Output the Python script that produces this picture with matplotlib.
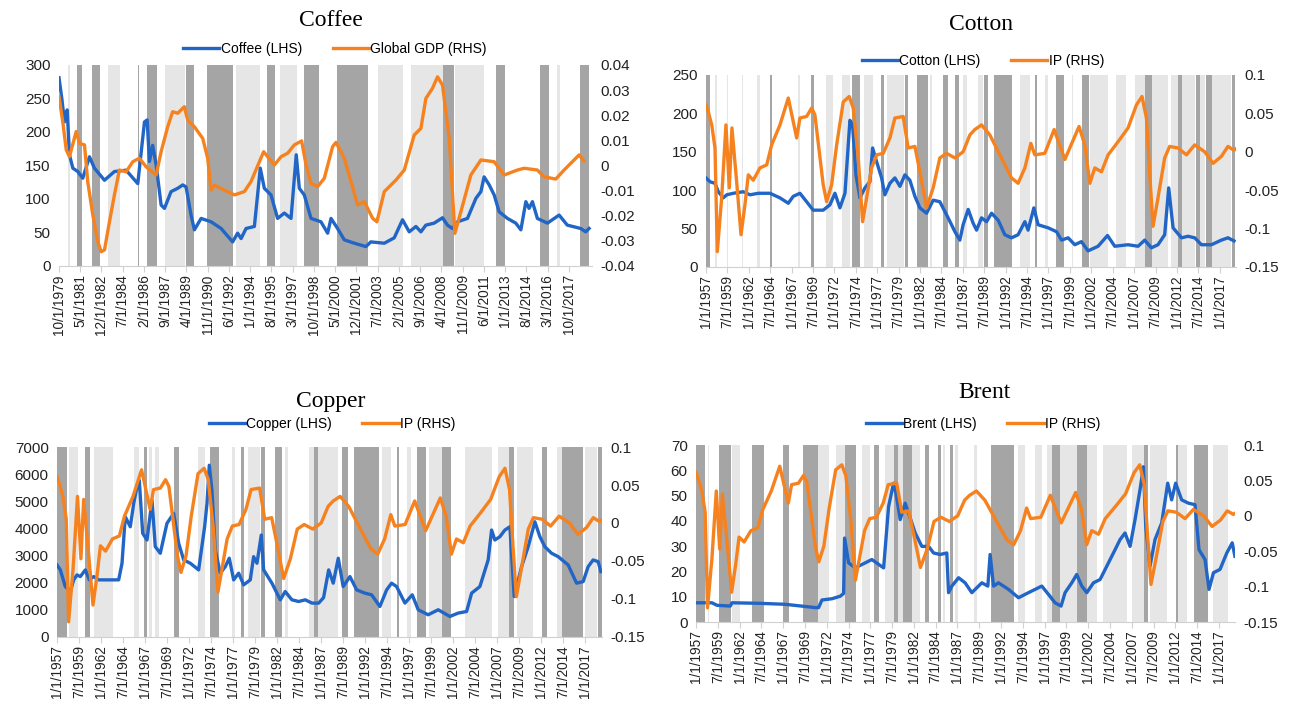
import numpy as np
import matplotlib.pyplot as plt

# ---------------- data (decimal years) ----------------
coffee_pts = [(1979.75, 281), (1979.96, 250), (1980.16, 215), (1980.36, 233), (1980.53, 166),
              (1980.78, 146), (1981.15, 141), (1981.52, 131), (1982.02, 163), (1982.39, 146),
              (1983.14, 128), (1983.88, 141), (1984.75, 143), (1985.62, 123), (1986.12, 215),
              (1986.32, 218), (1986.49, 156), (1986.73, 180), (1986.99, 151), (1987.36, 91),
              (1987.61, 86), (1988.10, 111), (1988.60, 116), (1988.97, 121), (1989.22, 118),
              (1989.59, 76), (1989.84, 54), (1990.34, 71), (1991.08, 66), (1991.83, 56),
              (1992.69, 36), (1993.06, 49), (1993.32, 41), (1993.69, 56), (1994.31, 59),
              (1994.75, 146), (1995.05, 116), (1995.55, 106), (1996.04, 71), (1996.54, 79),
              (1997.04, 71), (1997.43, 166), (1997.66, 116), (1998.03, 106), (1998.53, 71),
              (1999.27, 66), (1999.77, 49), (2000.02, 71), (2000.51, 56), (2001.01, 39),
              (2001.76, 34), (2002.62, 29), (2002.99, 36), (2003.99, 34), (2004.73, 42),
              (2005.35, 69), (2005.85, 51), (2006.35, 59), (2006.72, 51), (2007.09, 61),
              (2007.71, 64), (2008.33, 72), (2008.70, 61), (2009.07, 56), (2009.45, 66),
              (2010.19, 71), (2010.82, 101), (2011.19, 111), (2011.43, 133), (2011.81, 121),
              (2012.18, 106), (2012.55, 81), (2013.17, 71), (2013.79, 64), (2014.17, 54),
              (2014.54, 96), (2014.78, 86), (2015.03, 96), (2015.40, 71), (2016.15, 64),
              (2017.02, 76), (2017.63, 61), (2018.63, 56), (2019.00, 51), (2019.25, 56)]

gdp_pts = [(1979.75, 0.0274), (1980.03, 0.0174), (1980.29, 0.0062), (1980.53, 0.0035), (1981.03, 0.0135),
           (1981.28, 0.0088), (1981.65, 0.0082), (1981.89, -0.0064), (1982.27, -0.0197), (1982.64, -0.0303),
           (1982.89, -0.0343), (1983.14, -0.0336), (1983.51, -0.0224), (1983.88, -0.0117), (1984.25, -0.0018),
           (1984.75, -0.0025), (1985.25, 0.0015), (1985.74, 0.0029), (1986.24, -0.0005), (1986.99, -0.0038),
           (1987.36, 0.0055), (1987.85, 0.0154), (1988.22, 0.0214), (1988.60, 0.0208), (1989.09, 0.0234),
           (1989.34, 0.0181), (1989.84, 0.0154), (1990.46, 0.0108), (1990.83, 0.0029), (1991.08, -0.0098),
           (1991.33, -0.0078), (1992.07, -0.0098), (1992.82, -0.0117), (1993.56, -0.0104), (1994.06, -0.0064),
           (1995.00, 0.0055), (1995.80, 0.0002), (1996.30, 0.0035), (1996.79, 0.0049), (1997.29, 0.0082),
           (1997.83, 0.0098), (1998.16, 0.0002), (1998.53, -0.0071), (1999.02, -0.0084), (1999.52, -0.0051),
           (2000.14, 0.0075), (2000.39, 0.0092), (2001.01, 0.0029), (2001.51, -0.0064), (2002.00, -0.0157),
           (2002.50, -0.0144), (2003.12, -0.0210), (2003.44, -0.0224), (2003.99, -0.0104), (2004.86, -0.0058),
           (2005.48, -0.0018), (2006.22, 0.0121), (2006.72, 0.0148), (2007.09, 0.0267), (2007.58, 0.0307),
           (2007.96, 0.0353), (2008.33, 0.0320), (2008.83, 0.0108), (2009.25, -0.0270), (2009.70, -0.0184),
           (2010.44, -0.0038), (2011.19, 0.0022), (2012.18, 0.0015), (2012.92, -0.0038), (2013.91, -0.0018),
           (2014.41, -0.0011), (2015.40, -0.0018), (2015.90, -0.0045), (2016.77, -0.0054), (2017.39, -0.0018),
           (2018.51, 0.0042), (2018.88, 0.0018)]

ip_pts = [(1957.00, 0.061), (1957.27, 0.052), (1957.67, 0.035), (1958.05, 0.005), (1958.32, -0.130),
          (1958.83, -0.060), (1959.33, 0.035), (1959.72, -0.047), (1960.03, 0.031), (1960.58, -0.039),
          (1961.09, -0.108), (1961.55, -0.069), (1961.94, -0.030), (1962.52, -0.037), (1963.30, -0.021),
          (1964.09, -0.017), (1964.67, 0.009), (1965.64, 0.035), (1966.61, 0.070), (1967.59, 0.018),
          (1967.97, 0.044), (1968.75, 0.046), (1969.34, 0.057), (1969.72, 0.048), (1970.69, -0.043),
          (1971.09, -0.065), (1971.67, -0.043), (1972.26, 0.009), (1973.03, 0.065), (1973.73, 0.072),
          (1974.19, 0.057), (1974.78, -0.008), (1975.29, -0.091), (1975.76, -0.060), (1976.34, -0.021),
          (1976.93, -0.004), (1977.70, -0.002), (1978.48, 0.018), (1979.06, 0.044), (1980.03, 0.046),
          (1980.61, 0.005), (1981.40, 0.007), (1981.98, -0.026), (1982.76, -0.073), (1983.53, -0.047),
          (1984.31, -0.008), (1985.10, -0.002), (1986.07, -0.008), (1987.03, 0.000), (1987.82, 0.022),
          (1988.40, 0.029), (1989.18, 0.035), (1990.15, 0.022), (1991.32, -0.004), (1992.68, -0.034),
          (1993.45, -0.041), (1994.24, -0.021), (1994.94, 0.011), (1995.40, -0.004), (1996.57, -0.002),
          (1997.66, 0.029), (1998.91, -0.010), (2000.57, 0.033), (2001.24, 0.009), (2001.83, -0.041),
          (2002.41, -0.021), (2003.19, -0.026), (2003.96, -0.004), (2005.12, 0.013), (2006.29, 0.031),
          (2007.27, 0.061), (2007.92, 0.072), (2008.44, 0.044), (2008.83, -0.030), (2009.21, -0.097),
          (2009.79, -0.060), (2010.57, -0.008), (2011.15, 0.007), (2012.13, 0.005), (2013.11, -0.004),
          (2014.08, 0.009), (2015.25, 0.000), (2016.22, -0.015), (2017.19, -0.006), (2017.96, 0.007),
          (2018.67, 0.002), (2018.90, 0.004)]

cotton_pts = [(1957.00, 116), (1957.47, 111), (1958.05, 109), (1958.44, 98), (1959.02, 90),
              (1959.42, 94), (1960.19, 96), (1961.35, 98), (1962.14, 94), (1963.10, 96),
              (1964.47, 96), (1965.64, 90), (1966.61, 83), (1967.19, 92), (1967.97, 96),
              (1968.75, 85), (1969.52, 74), (1970.69, 74), (1971.47, 81), (1972.06, 96),
              (1972.64, 77), (1973.23, 96), (1973.81, 191), (1974.12, 185), (1974.51, 120),
              (1974.98, 90), (1975.56, 103), (1976.14, 111), (1976.46, 155), (1976.93, 137),
              (1977.51, 116), (1977.89, 94), (1978.48, 109), (1979.06, 116), (1979.65, 105),
              (1980.23, 120), (1980.81, 113), (1981.40, 92), (1981.98, 77), (1982.76, 70),
              (1983.53, 87), (1984.31, 85), (1985.28, 64), (1986.07, 46), (1986.65, 35),
              (1987.03, 55), (1987.62, 75), (1988.20, 57), (1988.60, 48), (1989.18, 64),
              (1989.77, 59), (1990.35, 70), (1991.12, 61), (1991.90, 42), (1992.68, 38),
              (1993.45, 42), (1994.24, 59), (1994.62, 48), (1995.29, 77), (1995.79, 55),
              (1996.96, 51), (1997.94, 46), (1998.52, 35), (1999.29, 38), (2000.07, 29),
              (2000.85, 33), (2001.62, 21), (2002.79, 27), (2003.89, 41), (2004.74, 27),
              (2006.29, 29), (2007.46, 27), (2008.24, 35), (2009.02, 25), (2009.79, 29),
              (2010.57, 42), (2011.04, 103), (2011.55, 51), (2012.53, 38), (2013.30, 40),
              (2014.08, 38), (2014.86, 29), (2016.03, 29), (2017.19, 35), (2017.96, 38),
              (2018.67, 34)]

copper_pts = [(1957.00, 2655), (1957.38, 2472), (1957.94, 1859), (1958.51, 1675), (1958.90, 2105),
              (1959.27, 2288), (1959.65, 2226), (1960.22, 2472), (1960.67, 2105), (1961.17, 2226),
              (1961.74, 2105), (1964.01, 2105), (1964.39, 2718), (1964.76, 4430), (1965.33, 4062),
              (1965.72, 4922), (1966.09, 5532), (1966.35, 5778), (1966.74, 3820), (1967.23, 3574),
              (1967.80, 5043), (1968.17, 3328), (1968.74, 3085), (1969.50, 4187), (1970.26, 4555),
              (1970.83, 3453), (1971.40, 2839), (1972.15, 2718), (1973.10, 2472), (1973.78, 4062),
              (1974.05, 4922), (1974.31, 6329), (1974.61, 5410), (1974.99, 3206), (1975.56, 2351),
              (1976.13, 2593), (1976.58, 2902), (1977.08, 2105), (1977.65, 2351), (1978.22, 1921),
              (1978.97, 2105), (1979.35, 2960), (1979.73, 2718), (1980.22, 3757), (1980.49, 2472),
              (1981.43, 1983), (1982.38, 1370), (1982.94, 1675), (1983.70, 1370), (1984.47, 1308),
              (1985.22, 1370), (1985.98, 1249), (1986.74, 1249), (1987.30, 1450), (1987.88, 2472),
              (1988.40, 1983), (1988.97, 2902), (1989.53, 1859), (1990.30, 2226), (1991.06, 1737),
              (1992.00, 1616), (1992.76, 1554), (1993.70, 1124), (1994.47, 1737), (1995.03, 1983),
              (1995.60, 1859), (1996.55, 1249), (1997.38, 1554), (1998.06, 1003), (1999.19, 819),
              (2000.33, 1003), (2001.66, 757), (2002.60, 881), (2003.56, 940), (2004.13, 1616),
              (2005.07, 1859), (2006.01, 2839), (2006.40, 3941), (2006.77, 3574), (2007.34, 3695),
              (2007.91, 3941), (2008.48, 4062), (2008.97, 1491), (2009.81, 2593), (2010.56, 3328),
              (2011.32, 4246), (2011.89, 3695), (2012.45, 3328), (2013.22, 3085), (2013.97, 2960),
              (2015.10, 2656), (2016.06, 1983), (2016.81, 2042), (2017.38, 2593), (2017.94, 2839),
              (2018.51, 2777), (2018.82, 2409)]

brent_pts = [(1957.00, 7.6), (1958.83, 7.6), (1959.41, 6.6), (1960.93, 6.3), (1961.13, 7.6),
             (1964.19, 7.4), (1967.24, 7.0), (1970.68, 5.7), (1971.07, 5.7), (1971.45, 8.7),
             (1972.60, 9.2), (1973.55, 10.2), (1973.94, 11.3), (1974.05, 33.2), (1974.51, 23.4),
             (1975.27, 21.4), (1976.42, 23.4), (1977.18, 24.7), (1978.53, 21.4), (1979.10, 45.7),
             (1979.67, 54.9), (1979.94, 51.0), (1980.43, 40.5), (1981.00, 47.0), (1981.58, 41.1),
             (1982.15, 35.2), (1982.92, 29.9), (1983.69, 29.9), (1984.26, 27.3), (1985.02, 26.7),
             (1985.78, 27.3), (1985.98, 11.6), (1986.36, 14.2), (1987.13, 17.5), (1987.88, 15.5),
             (1988.65, 11.6), (1989.80, 15.5), (1990.49, 14.2), (1990.75, 26.7), (1991.14, 14.2),
             (1991.71, 15.5), (1992.86, 12.9), (1994.01, 9.6), (1995.15, 11.6), (1996.68, 14.2),
             (1997.45, 10.9), (1998.20, 7.6), (1998.89, 6.3), (1999.35, 11.6), (2000.12, 15.5),
             (2000.69, 18.8), (2001.27, 14.2), (2001.84, 11.6), (2002.61, 15.5), (2003.37, 16.8),
             (2004.33, 23.4), (2005.09, 28.6), (2005.66, 32.6), (2006.23, 35.2), (2006.81, 29.9),
             (2007.38, 40.5), (2007.95, 52.3), (2008.34, 61.4), (2008.61, 37.8), (2009.10, 22.1),
             (2009.67, 32.6), (2010.44, 39.2), (2011.13, 54.9), (2011.58, 48.3), (2012.04, 54.9),
             (2012.73, 48.3), (2013.50, 47.0), (2014.26, 46.4), (2014.72, 28.6), (2015.41, 24.7),
             (2015.87, 12.9), (2016.38, 19.5), (2017.13, 20.8), (2017.91, 27.3), (2018.53, 31.3),
             (2018.84, 26.0)]

# shaded regimes (start, end)
coffee_dark = [(1981.08, 1981.45), (1982.22, 1982.77), (1985.62, 1985.74), (1986.32, 1987.03),
               (1989.19, 1989.79), (1990.79, 1992.69), (1995.22, 1995.85), (1998.03, 1999.15),
               (2000.46, 2002.74), (2008.40, 2009.15), (2012.33, 2012.97), (2015.60, 2016.27),
               (2018.58, 2019.25)]
coffee_light = [(1980.40, 1980.55), (1983.38, 1984.28), (1987.68, 1989.15), (1992.94, 1994.75),
                (1996.19, 1997.46), (2003.49, 2005.35), (2005.97, 2008.38), (2009.25, 2011.43),
                (2016.89, 2017.09)]

cotton_dark = [(1957.00, 1957.47), (1964.47, 1964.70), (1969.26, 1969.64), (1974.01, 1974.98),
               (1977.39, 1977.78), (1980.23, 1980.61), (1981.66, 1982.88), (1984.70, 1985.28),
               (1986.07, 1986.53), (1989.49, 1989.88), (1990.62, 1992.75), (1995.40, 1995.67),
               (1997.82, 1998.79), (2000.97, 2001.71), (2008.25, 2009.10), (2012.13, 2012.64),
               (2014.28, 2014.74), (2015.40, 2016.10), (2018.48, 2018.83)]
cotton_light = [(1958.05, 1958.25), (1959.42, 1959.57), (1961.17, 1961.35), (1962.92, 1963.30),
                (1967.77, 1967.97), (1970.97, 1971.86), (1972.84, 1973.81), (1975.44, 1976.46),
                (1978.16, 1980.11), (1983.15, 1983.35), (1987.03, 1987.43), (1988.78, 1989.37),
                (1993.65, 1994.82), (1996.57, 1996.89), (1999.69, 1999.87), (2001.83, 2003.96),
                (2004.94, 2006.11), (2007.08, 2008.25), (2009.10, 2010.97), (2011.36, 2012.13),
                (2012.64, 2014.08), (2014.74, 2015.33), (2016.10, 2018.36)]

copper_dark = [(1957.00, 1958.14), (1960.22, 1960.78), (1966.89, 1967.26), (1970.33, 1970.90),
               (1974.42, 1975.44), (1977.94, 1978.22), (1980.22, 1980.67), (1981.73, 1982.57),
               (1986.17, 1986.63), (1989.42, 1990.10), (1990.78, 1993.59), (1995.60, 1995.86),
               (1997.91, 1998.90), (2000.78, 2001.77), (2008.40, 2008.97), (2012.15, 2012.65),
               (2014.42, 2016.81), (2018.44, 2018.97)]
copper_light = [(1958.40, 1959.39), (1961.24, 1963.36), (1965.71, 1966.28), (1967.49, 1967.80),
                (1968.17, 1968.56), (1973.02, 1973.85), (1976.89, 1977.19), (1978.70, 1980.10),
                (1982.94, 1983.25), (1985.60, 1986.17), (1986.63, 1988.97), (1993.90, 1994.95),
                (1996.74, 1997.23), (1999.31, 2000.72), (2003.36, 2006.40), (2007.15, 2008.36),
                (2009.24, 2011.13), (2013.78, 2014.42), (2017.00, 2018.33)]

brent_dark = [(1957.00, 1958.00), (1959.60, 1961.05), (1963.42, 1964.83), (1966.94, 1967.63),
              (1969.24, 1970.99), (1974.12, 1975.35), (1977.38, 1978.02), (1979.67, 1980.13),
              (1980.70, 1981.77), (1983.30, 1983.75), (1984.75, 1985.13), (1986.16, 1986.44),
              (1990.87, 1993.50), (1997.83, 1998.78), (2000.69, 2001.84), (2008.45, 2008.83),
              (2012.05, 2012.27), (2014.14, 2015.80)]
brent_light = [(1958.38, 1958.53), (1961.13, 1962.08), (1970.99, 1972.22), (1973.06, 1974.05),
               (1976.04, 1976.99), (1978.71, 1979.67), (1980.13, 1980.70), (1981.77, 1982.72),
               (1985.40, 1985.59), (1986.74, 1987.05), (1988.85, 1989.22), (1993.93, 1994.76),
               (1995.91, 1996.68), (1997.25, 1997.83), (1998.78, 2000.69), (2001.84, 2002.99),
               (2003.75, 2006.42), (2007.00, 2008.45), (2009.10, 2011.01), (2012.35, 2013.31),
               (2016.37, 2018.09)]

coffee_xticks = ['10/1/1979', '5/1/1981', '12/1/1982', '7/1/1984', '2/1/1986', '9/1/1987', '4/1/1989',
                 '11/1/1990', '6/1/1992', '1/1/1994', '8/1/1995', '3/1/1997', '10/1/1998', '5/1/2000',
                 '12/1/2001', '7/1/2003', '2/1/2005', '9/1/2006', '4/1/2008', '11/1/2009', '6/1/2011',
                 '1/1/2013', '8/1/2014', '3/1/2016', '10/1/2017']
ip_xticks = ['1/1/1957', '7/1/1959', '1/1/1962', '7/1/1964', '1/1/1967', '7/1/1969', '1/1/1972',
             '7/1/1974', '1/1/1977', '7/1/1979', '1/1/1982', '7/1/1984', '1/1/1987', '7/1/1989',
             '1/1/1992', '7/1/1994', '1/1/1997', '7/1/1999', '1/1/2002', '7/1/2004', '1/1/2007',
             '7/1/2009', '1/1/2012', '7/1/2014', '1/1/2017']

coffee_left = ['0', '50', '100', '150', '200', '250', '300']
coffee_right = ['-0.04', '-0.03', '-0.02', '-0.01', '0', '0.01', '0.02', '0.03', '0.04']
cotton_left = ['0', '50', '100', '150', '200', '250']
copper_left = ['0', '1000', '2000', '3000', '4000', '5000', '6000', '7000']
brent_left = ['0', '10', '20', '30', '40', '50', '60', '70']
ip_right = ['-0.15', '-0.1', '-0.05', '0', '0.05', '0.1']

BLUE = '#2166c6'
ORANGE = '#f5821f'
DARK = '#a5a5a5'
LIGHT = '#e6e6e6'

W, H = 1293, 710
plt.rcParams['font.family'] = ['Liberation Sans', 'DejaVu Sans']
fig = plt.figure(figsize=(W / 100, H / 100), dpi=100)


def tick_pos(label):
    m, d, y = label.split('/')
    return int(y) + (int(m) - 1) / 12


def panel(box, title, title_xy, leg_xy, name, pts, rname, rpts, dark, light,
          xlim, xticks, lticks, rticks):
    l, t, r, b = box
    ax = fig.add_axes([l / W, 1 - b / H, (r - l) / W, (b - t) / H])
    for a, e in dark:
        ax.axvspan(a, e, color=DARK, lw=0, zorder=0)
    for a, e in light:
        ax.axvspan(a, e, color=LIGHT, lw=0, zorder=0)

    x, y = zip(*pts)
    h1, = ax.plot(x, y, color=BLUE, lw=2.4, zorder=3, label=name)
    lv = [float(v) for v in lticks]
    ax.set_ylim(lv[0], lv[-1])
    ax.set_yticks(lv)
    ax.set_yticklabels(lticks)
    ax.set_xlim(*xlim)
    ax.set_xticks([tick_pos(s) for s in xticks])
    ax.set_xticklabels(xticks, rotation=90)

    ax2 = ax.twinx()
    rx, ry = zip(*rpts)
    h2, = ax2.plot(rx, ry, color=ORANGE, lw=2.4, label=rname)
    rv = [float(v) for v in rticks]
    ax2.set_ylim(rv[0], rv[-1])
    ax2.set_yticks(rv)
    ax2.set_yticklabels(rticks)

    for a_ in (ax, ax2):
        for s in a_.spines.values():
            s.set_visible(False)
    ax.spines['bottom'].set_visible(True)
    ax.spines['bottom'].set_color('#d0d0d0')
    ax.tick_params(axis='x', length=4, color='#d0d0d0', labelsize=9.8, pad=2, labelcolor='#222222')
    ax.tick_params(axis='y', length=0, labelsize=11, pad=6, labelcolor='#222222')
    ax2.tick_params(axis='y', length=0, labelsize=11, pad=6, labelcolor='#222222')

    fig.text(title_xy[0] / W, 1 - title_xy[1] / H, title, ha='center', va='center',
             fontsize=17, family='Liberation Serif')
    fig.legend([h1, h2], [name, rname], loc='center', ncol=2,
               bbox_to_anchor=(leg_xy[0] / W, 1 - leg_xy[1] / H), frameon=False,
               prop={'family': 'Liberation Sans', 'size': 10}, handlelength=2.6,
               handletextpad=0.1, columnspacing=2.2)
    return ax


panel((59, 65, 592, 266), 'Coffee', (331, 21), (335, 49), 'Coffee (LHS)', coffee_pts,
      'Global GDP (RHS)', gdp_pts, coffee_dark, coffee_light, (1979.75, 2019.47),
      coffee_xticks, coffee_left, coffee_right)
panel((706, 75, 1236, 267), 'Cotton', (981, 24), (983, 61), 'Cotton (LHS)', cotton_pts,
      'IP (RHS)', ip_pts, cotton_dark, cotton_light, (1957.0, 2018.9),
      ip_xticks, cotton_left, ip_right)
panel((57, 447, 602, 637), 'Copper', (331, 402), (332, 424), 'Copper (LHS)', copper_pts,
      'IP (RHS)', ip_pts, copper_dark, copper_light, (1957.0, 2018.95),
      ip_xticks, copper_left, ip_right)
panel((696, 445, 1235, 622), 'Brent', (984, 393), (983, 424), 'Brent (LHS)', brent_pts,
      'IP (RHS)', ip_pts, brent_dark, brent_light, (1957.0, 2018.85),
      ip_xticks, brent_left, ip_right)

fig.savefig('out.png', dpi=100)
